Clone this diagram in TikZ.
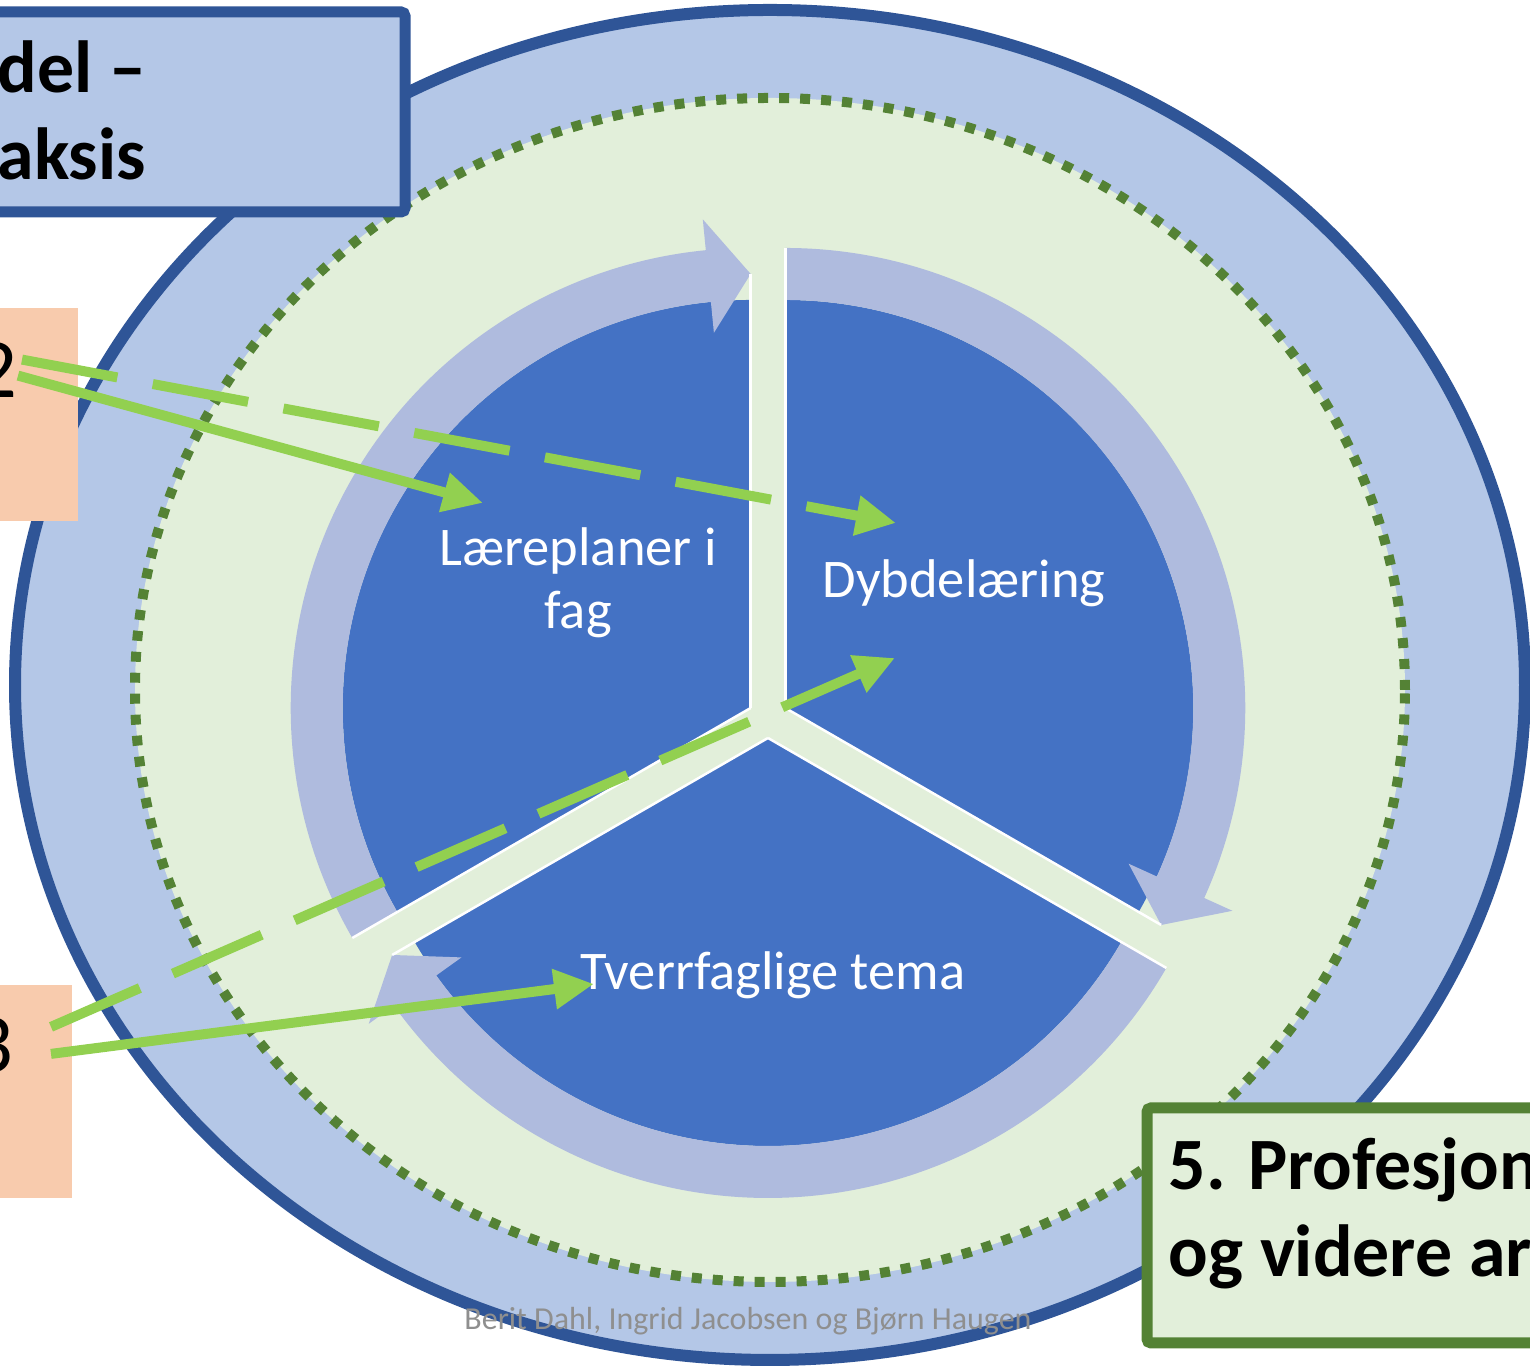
\documentclass[tikz,border=0pt]{standalone}
\usepackage{fontspec}
\setmainfont{Carlito}
\usetikzlibrary{arrows.meta}
\definecolor{ringblue}{HTML}{B4C7E7}
\definecolor{ringline}{HTML}{2F5597}
\definecolor{palegreen}{HTML}{E2EFDA}
\definecolor{dotgreen}{HTML}{548235}
\definecolor{segblue}{HTML}{4472C4}
\definecolor{bandblue}{HTML}{AFBBDE}
\definecolor{arrowgreen}{HTML}{92D050}
\definecolor{peach}{HTML}{F8CBAD}
\definecolor{footgray}{HTML}{8F8F8F}
\begin{document}
\begin{tikzpicture}[x=0.1mm, y=0.1mm,
  seg/.style={fill=segblue},
  band/.style={fill=bandblue},
  segedge/.style={draw=white, line width=0.25mm},
  boxtext/.style={inner sep=0, align=left, font=\bfseries\fontsize{21}{25}\selectfont},
  digit/.style={inner sep=0, font=\fontsize{24}{28}\selectfont},
  seglabel/.style={inner sep=0, align=center, text=white, font=\fontsize{15.5}{18}\selectfont},
  greenarrow/.style={draw=arrowgreen, line width=1mm, -{Triangle[length=4mm, width=3.8mm]}},
  dasharrow/.style={greenarrow, dash pattern=on 9.7mm off 3.6mm}]
\useasboundingbox (0,0) rectangle (1530,1368);
\draw[fill=ringblue, draw=ringline, line width=1.2mm] (770,683) ellipse [x radius=755, y radius=675];
\draw[fill=palegreen, draw=dotgreen, line width=1mm, dash pattern=on 1mm off 1.1mm] (770,678) ellipse [x radius=635, y radius=592];

\begin{scope}[shift={(750.7,660)}]
\fill[seg] (0,0) -- (90:408) arc[start angle=90, end angle=210, radius=408] -- cycle;
\end{scope}
\begin{scope}[shift={(785.3,660)}]
\fill[seg] (0,0) -- (-30:408) arc[start angle=-30, end angle=90, radius=408] -- cycle;
\end{scope}
\begin{scope}[shift={(768,630)}]
\fill[seg] (0,0) -- (210:408) arc[start angle=210, end angle=330, radius=408] -- cycle;
\end{scope}

\begin{scope}[shift={(750.7,660)}]
\fill[band] (210:460) arc[start angle=210, end angle=95.6, radius=460] -- (95.6:491) -- (90:434) -- (95.6:377) -- (95.6:408) arc[start angle=95.6, end angle=210, radius=408] -- cycle;
\draw[segedge] (0,0) -- (90:434);
\draw[segedge] (0,0) -- (210:460);
\end{scope}
\begin{scope}[shift={(785.3,660)}]
\fill[band] (90:460) arc[start angle=90, end angle=-24.4, radius=460] -- (-24.4:491) -- (-30:434) -- (-24.4:377) -- (-24.4:408) arc[start angle=-24.4, end angle=90, radius=408] -- cycle;
\draw[segedge] (0,0) -- (-30:434);
\draw[segedge] (0,0) -- (90:460);
\end{scope}
\begin{scope}[shift={(768,630)}]
\fill[band] (330:460) arc[start angle=330, end angle=215.6, radius=460] -- (215.6:491) -- (210:434) -- (215.6:377) -- (215.6:408) arc[start angle=215.6, end angle=330, radius=408] -- cycle;
\draw[segedge] (0,0) -- (210:434);
\draw[segedge] (0,0) -- (330:460);
\end{scope}

\node[seglabel] (lp) at (578,785) {Læreplaner i\\fag};
\node[seglabel, anchor=base] (dl) at (964,770) {Dybdelæring};
\node[seglabel, anchor=base] (tt) at (773,378) {Tverrfaglige tema};

\fill[peach] (-10,1060) rectangle (78,847);
\fill[peach] (-10,383) rectangle (72,170);
\node[digit, anchor=base east] (two) at (18,970) {2};
\node[digit, anchor=base east] (three) at (14,295) {3};

\draw[fill=ringblue, draw=ringline, line width=1.1mm, rounded corners=0.4mm] (-40,1356) rectangle (405,1156);
\node[boxtext, anchor=base west] (title) at (-3,1188) {del –\\aksis};
\draw[fill=palegreen, draw=dotgreen, line width=1.1mm, rounded corners=0.4mm] (1147,260) rectangle (1700,25);
\node[boxtext, anchor=base west] (prof) at (1168,91) {5. Profesjon\\og videre ar};

\coordinate (lpTip) at (483,865);
\coordinate (dlTop) at (896,845);
\coordinate (dlLow) at (895,710);
\coordinate (ttTip) at (594,384);
\draw[greenarrow] ([shift={(0,-5)}]two.east) -- (lpTip);
\draw[dasharrow] ([shift={(4,11)}]two.east) -- (dlTop);
\draw[dasharrow] ([shift={(37,19)}]three.east) -- (dlLow);
\draw[greenarrow] ([shift={(37,-8)}]three.east) -- (ttTip);

\node[text=footgray, font=\fontsize{9.1}{11}\selectfont, anchor=base] (credit) at (748,38) {Berit Dahl, Ingrid Jacobsen og Bjørn Haugen};
\end{tikzpicture}
\end{document}
